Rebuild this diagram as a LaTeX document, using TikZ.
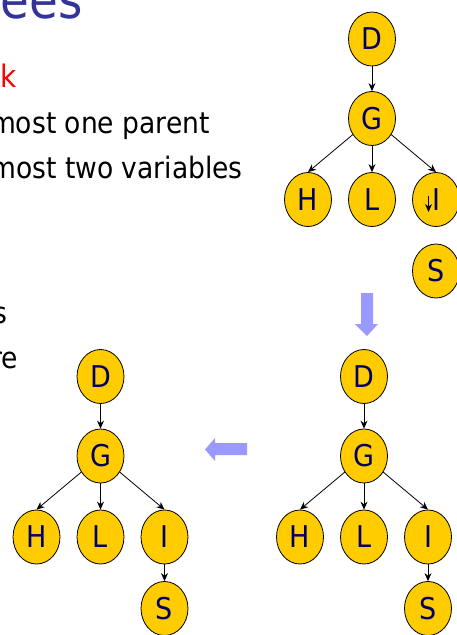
\documentclass[tikz,border=0pt]{standalone}
\usepackage{fontspec}
\setmainfont{DejaVu Sans}[FakeStretch=0.9]
\usetikzlibrary{shapes.geometric,arrows.meta}
\definecolor{nodefill}{HTML}{FFCC00}
\definecolor{navy}{HTML}{000066}
\definecolor{titleblue}{HTML}{333399}
\definecolor{arrowblue}{HTML}{9999FF}
\begin{document}
\begin{tikzpicture}[x=1pt,y=-1pt,
  var/.style={ellipse, draw=black, line width=0.8pt, fill=nodefill,
    minimum width=47pt, minimum height=54pt, inner sep=0pt, text=navy,
    font=\fontsize{30}{30}\selectfont},
  edge/.style={-{Stealth[length=8pt,width=7pt]}, line width=0.8pt},
  bodytext/.style={anchor=base east, inner sep=0pt, font=\fontsize{29.5}{29.5}\selectfont},
  bigarrow/.style={fill=arrowblue, draw=none}]
\useasboundingbox (0,0) rectangle (456,635);

% texts
\node[bodytext, text=titleblue, font=\fontsize{52}{52}\selectfont] (title) at (83,18) {ees};
\node[bodytext, text=red, font=\fontsize{31}{31}\selectfont] (bullet) at (17,87) {k};
\node[bodytext] (sub1) at (210,133) {most one parent};
\node[bodytext] (sub2) at (243,178) {most two variables};
\node[bodytext] (s) at (8,323) {s};
\node[bodytext] (re) at (18,368) {re};

% top tree
\begin{scope}[shift={(372,39)}]
\node[var] (tD) at (0,0) {D};
\node[var] (tG) at (0,79.5) {G};
\node[var] (tH) at (-64,160.5) {H};
\node[var] (tL) at (0,160.5) {L};
\node[var] (tI) at (64,160.5) {I};
\node[var] (tS) at (64,232) {S};
\end{scope}
\draw[edge] (tD) -- (tG);
\draw[edge] (tG) -- (tH.north);
\draw[edge] (tG) -- (tL);
\draw[edge] (tG) -- (tI.north);
\draw[edge] ([xshift=-7.5pt,yshift=4pt]tI.center) -- ([xshift=-7.5pt,yshift=-12.5pt]tI.center);

% bottom right tree
\begin{scope}[shift={(364,376.5)}]
\node[var] (rD) at (0,0) {D};
\node[var] (rG) at (0,79.5) {G};
\node[var] (rH) at (-64,160.5) {H};
\node[var] (rL) at (0,160.5) {L};
\node[var] (rI) at (64,160.5) {I};
\node[var] (rS) at (64,232) {S};
\end{scope}
\draw[edge] (rD) -- (rG);
\draw[edge] (rG) -- (rH.north);
\draw[edge] (rG) -- (rL);
\draw[edge] (rG) -- (rI.north);
\draw[edge] (rI) -- (rS);

% bottom left tree
\begin{scope}[shift={(100.5,376.5)}]
\node[var] (lD) at (0,0) {D};
\node[var] (lG) at (0,79.5) {G};
\node[var] (lH) at (-64,160.5) {H};
\node[var] (lL) at (0,160.5) {L};
\node[var] (lI) at (64,160.5) {I};
\node[var] (lS) at (64,232) {S};
\end{scope}
\draw[edge] (lD) -- (lG);
\draw[edge] (lG) -- (lH.north);
\draw[edge] (lG) -- (lL);
\draw[edge] (lG) -- (lI.north);
\draw[edge] (lI) -- (lS);

% big blue arrows
\fill[bigarrow] (361,293) -- (373,293) -- (373,324) -- (378,324) -- (367,336) -- (355,324) -- (361,324) -- cycle;
\fill[bigarrow] (247,443) -- (215,443) -- (215,438) -- (205,449.5) -- (215,461) -- (215,455) -- (247,455) -- cycle;
\end{tikzpicture}
\end{document}
